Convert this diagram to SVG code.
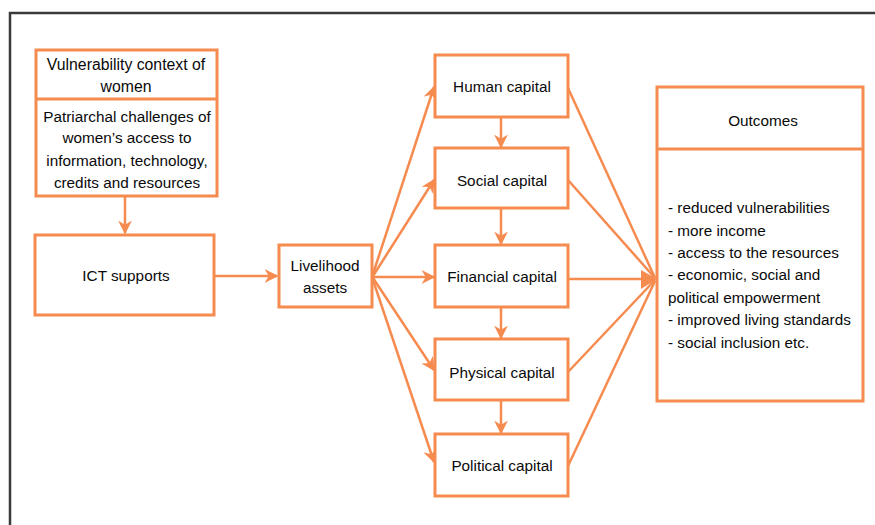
<svg xmlns="http://www.w3.org/2000/svg" width="875" height="525" viewBox="0 0 875 525">
  <style>
    .box { fill: #ffffff; stroke: #f68b50; stroke-width: 3; }
    .lbl { font-family: "Liberation Sans", Arial, sans-serif; font-size: 15.3px; fill: #0a0a0a; text-anchor: middle; }
    .lst { font-family: "Liberation Sans", Arial, sans-serif; font-size: 15.3px; fill: #0a0a0a; }
    .big { font-size: 15.8px; }
    .con { fill: none; stroke: #f68b50; stroke-width: 2.5; }
  </style>
  <defs>
    <marker id="arrow" viewBox="0 0 10 10" refX="9" refY="5" markerWidth="5.5" markerHeight="5.5" orient="auto" markerUnits="strokeWidth">
      <path d="M0,0 L10,5 L0,10 L3,5 Z" fill="#f68b50"/>
    </marker>
  </defs>

  <rect width="875" height="525" fill="#ffffff"/>
  <!-- outer frame -->
  <path d="M10,525 V13 H875" fill="none" stroke="#3a3a3a" stroke-width="2.5"/>

  <g id="connectors">
    <line class="con" x1="125" y1="196" x2="125" y2="233" marker-end="url(#arrow)"/>
    <line class="con" x1="214" y1="276" x2="277" y2="276" marker-end="url(#arrow)"/>
    <!-- livelihood assets to each capital -->
    <line class="con" x1="373" y1="274" x2="434" y2="87" marker-end="url(#arrow)"/>
    <line class="con" x1="373" y1="276" x2="434" y2="180" marker-end="url(#arrow)"/>
    <line class="con" x1="373" y1="277" x2="434" y2="277" marker-end="url(#arrow)"/>
    <line class="con" x1="373" y1="278" x2="434" y2="370" marker-end="url(#arrow)"/>
    <line class="con" x1="373" y1="280" x2="434" y2="462" marker-end="url(#arrow)"/>
    <!-- chain between capitals -->
    <line class="con" x1="501" y1="117" x2="501" y2="147" marker-end="url(#arrow)"/>
    <line class="con" x1="501" y1="208" x2="501" y2="244" marker-end="url(#arrow)"/>
    <line class="con" x1="501" y1="307" x2="501" y2="338" marker-end="url(#arrow)"/>
    <line class="con" x1="501" y1="400" x2="501" y2="433" marker-end="url(#arrow)"/>
    <!-- capitals to outcomes -->
    <line class="con" x1="568" y1="88" x2="655" y2="278"/>
    <line class="con" x1="568" y1="180" x2="655" y2="278"/>
    <line class="con" x1="568" y1="279" x2="655" y2="279"/>
    <line class="con" x1="568" y1="372" x2="655" y2="280"/>
    <line class="con" x1="568" y1="466" x2="655" y2="281"/>
    <path d="M641,270 L657,279 L641,289 Z" fill="#f68b50"/>
  </g>

  <g id="vulnerability">
    <rect class="box" x="36" y="50" width="181" height="146"/>
    <line x1="36" y1="99" x2="217" y2="99" stroke="#f68b50" stroke-width="3"/>
    <text class="lbl big" x="126" y="70">Vulnerability context of</text>
    <text class="lbl big" x="126" y="92">women</text>
    <text class="lbl" x="127" y="122">Patriarchal challenges of</text>
    <text class="lbl" x="127" y="143">women’s access to</text>
    <text class="lbl" x="127" y="166">information, technology,</text>
    <text class="lbl" x="127" y="188">credits and resources</text>
  </g>

  <g id="ict">
    <rect class="box" x="35" y="235" width="179" height="80"/>
    <text class="lbl" x="126" y="281">ICT supports</text>
  </g>

  <g id="livelihood">
    <rect class="box" x="279" y="245" width="93" height="62"/>
    <text class="lbl" x="325" y="271">Livelihood</text>
    <text class="lbl" x="325" y="293">assets</text>
  </g>

  <g id="human">
    <rect class="box" x="435" y="55" width="133" height="62"/>
    <text class="lbl" x="502" y="92">Human capital</text>
  </g>

  <g id="social">
    <rect class="box" x="435" y="148" width="133" height="60"/>
    <text class="lbl" x="502" y="186">Social capital</text>
  </g>

  <g id="financial">
    <rect class="box" x="435" y="245" width="133" height="62"/>
    <text class="lbl" x="502" y="282">Financial capital</text>
  </g>

  <g id="physical">
    <rect class="box" x="435" y="339" width="133" height="61"/>
    <text class="lbl" x="502" y="378">Physical capital</text>
  </g>

  <g id="political">
    <rect class="box" x="435" y="434" width="133" height="62"/>
    <text class="lbl" x="502" y="471">Political capital</text>
  </g>

  <g id="outcomes">
    <rect class="box" x="657" y="87" width="206" height="314"/>
    <line x1="657" y1="149" x2="863" y2="149" stroke="#f68b50" stroke-width="3"/>
    <text class="lbl" x="763" y="126">Outcomes</text>
    <text class="lst" x="668" y="213">- reduced vulnerabilities</text>
    <text class="lst" x="668" y="236">- more income</text>
    <text class="lst" x="668" y="258">- access to the resources</text>
    <text class="lst" x="668" y="280">- economic, social and</text>
    <text class="lst" x="668" y="303">political empowerment</text>
    <text class="lst" x="668" y="325">- improved living standards</text>
    <text class="lst" x="668" y="348">- social inclusion etc.</text>
  </g>
</svg>
